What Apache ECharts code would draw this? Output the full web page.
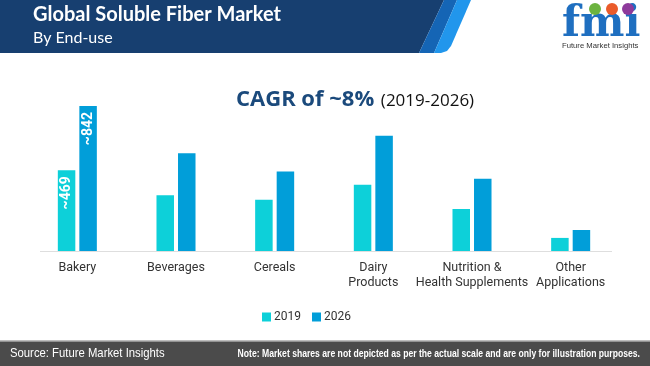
<!DOCTYPE html>
<html>
<head>
<meta charset="utf-8">
<script src="https://cdn.jsdelivr.net/npm/echarts@6/dist/echarts.min.js"></script>
<style>html,body{margin:0;padding:0;background:#fff}#chart{width:650px;height:366px}</style>
</head>
<body>
<div id="chart"></div>
<script>
const categories = ['Bakery', 'Beverages', 'Cereals', 'Dairy\nProducts', 'Nutrition &\nHealth Supplements', 'Other\nApplications'];
const seriesNames = ['2019', '2026'];
const values2019 = [469, 324, 297, 384, 244, 76];
const values2026 = [842, 568, 461, 669, 420, 122];
const labelIndex = 0; // only Bakery bars carry value labels

const chart = echarts.init(document.getElementById('chart'), null, {renderer: 'canvas'});

function withLabel(arr) {
  return arr.map((v, i) => i === labelIndex ? {
    value: v,
    label: {show: true, formatter: '~' + v}
  } : v);
}

const labelStyle = {
  show: false,
  position: 'insideTop',
  rotate: 90,
  align: 'right',
  verticalAlign: 'middle',
  distance: 6,
  color: '#fff',
  fontSize: 14,
  fontWeight: 'bold',
  fontFamily: 'Roboto'
};

chart.setOption({
  animation: false,
  grid: {left: 28, right: 30, top: 96, bottom: 115},
  xAxis: {
    type: 'category',
    data: categories,
    axisLine: {show: false},
    axisTick: {show: false},
    axisLabel: {color: '#333', fontSize: 12.5, fontFamily: 'Roboto', lineHeight: 15, margin: 9, interval: 0}
  },
  yAxis: {type: 'value', min: 0, max: 900, show: false, splitLine: {show: false}},
  legend: {
    data: seriesNames,
    left: 257, top: 306,
    icon: 'rect', itemWidth: 9, itemHeight: 9, itemGap: 11,
    textStyle: {color: '#333', fontSize: 12, fontFamily: 'Roboto', padding: [0, 0, 0, -2]}
  },
  series: [
    {name: seriesNames[0], type: 'bar', data: withLabel(values2019), barWidth: 17.5, barGap: '23%',
     itemStyle: {color: '#0dd0d9'}, label: labelStyle},
    {name: seriesNames[1], type: 'bar', data: withLabel(values2026), barWidth: 17.5,
     itemStyle: {color: '#019ed9'}, label: labelStyle}
  ],
  graphic: [
    {type: 'polygon', shape: {points: [[0,0],[444,0],[419,53],[0,53]]}, style: {fill: '#173f70'}, z: 1},
    {type: 'polygon', shape: {points: [[444,0],[457,0],[434,53],[419,53]]}, style: {fill: '#1565b5'}, z: 1},
    {type: 'polygon', shape: {points: [[457,0],[471,0],[451,46],[447,51],[441,53],[434,53]]}, style: {fill: '#2196ec'}, z: 1},
    {type: 'text', left: 33, top: 5, z: 2, style: {text: 'Global Soluble Fiber Market', fill: '#fff', font: 'bold 20px Lato'}},
    {type: 'text', left: 33, top: 30, z: 2, style: {text: 'By End-use', fill: '#fff', font: '16px Lato'}},
    // logo
    {type: 'text', x: 562, y: 4, z: 2, style: {text: 'fmi', x: 0, y: 0, fill: '#1f6fc0', fontSize: 42, fontWeight: 'bold', fontFamily: 'DejaVu Serif'}},
    {type: 'circle', shape: {cx: 595, cy: 9, r: 6}, style: {fill: '#6cb33f'}, z: 3},
    {type: 'circle', shape: {cx: 612, cy: 9, r: 6}, style: {fill: '#ea5b2a'}, z: 3},
    {type: 'circle', shape: {cx: 628, cy: 9, r: 6}, style: {fill: '#8e3a9b'}, z: 3},
    {type: 'text', x: 562, y: 42, scaleX: 0.96, z: 2, style: {text: 'Future Market Insights', x: 0, y: 0, fill: '#333', font: '8px "Liberation Sans"'}},
    // CAGR
    {type: 'text', left: 236, top: 89, z: 2, style: {
      text: '{a|CAGR of ~8%}  {b|(2019-2026)}',
      rich: {
        a: {fill: '#1b4a7c', font: 'bold 22px "Open Sans"', verticalAlign: 'bottom'},
        b: {fill: '#111', font: '17px "Open Sans"', verticalAlign: 'bottom', padding: [0,0,1,0]}
      }
    }},
    // baseline
    {type: 'line', shape: {x1: 40, y1: 251.5, x2: 612, y2: 251.5}, style: {stroke: '#dedede', lineWidth: 1}, z: 0},
    // footer
    {type: 'rect', shape: {x: 0, y: 340, width: 650, height: 1.5}, style: {fill: '#bdbdbd'}, z: 1},
    {type: 'rect', shape: {x: 0, y: 341.5, width: 650, height: 25}, style: {fill: '#4b4b4b'}, z: 1},
    {type: 'text', x: 10, y: 347, scaleX: 0.87, z: 2, style: {text: 'Source: Future Market Insights', x: 0, y: 0, fill: '#fff', font: '13px "Liberation Sans"'}},
    {type: 'text', x: 640, y: 349, scaleX: 0.82, z: 2, style: {text: 'Note: Market shares are not depicted as per the actual scale and are only for illustration purposes.', x: 0, y: 0, align: 'right', textAlign: 'right', fill: '#fff', font: 'bold 10.5px "Liberation Sans"'}}
  ]
});
</script>
</body>
</html>
